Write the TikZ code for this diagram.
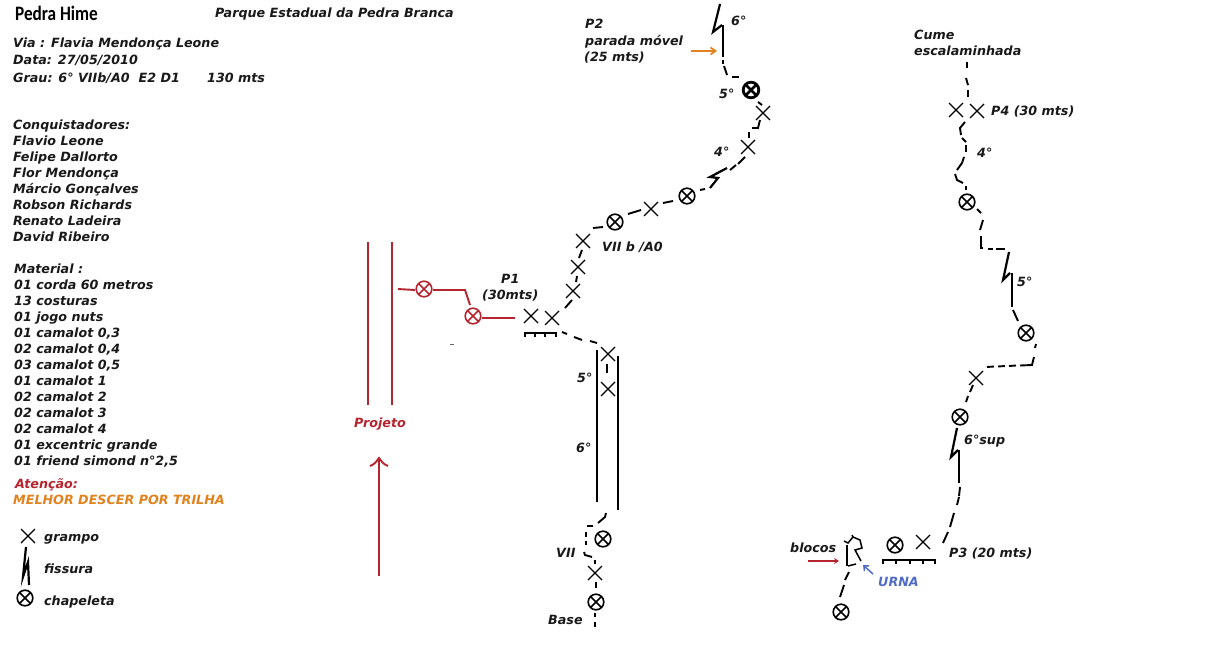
\documentclass[tikz,border=0pt]{standalone}
\usepackage{fontspec}
\setmainfont{DejaVu Sans}
\newfontfamily\titlefont[FakeStretch=0.84,BoldFont={Carlito Bold}]{Carlito}
\usetikzlibrary{arrows.meta}
\definecolor{redline}{HTML}{B5252F}
\definecolor{orangeline}{HTML}{E0821E}
\definecolor{blueline}{HTML}{4F6BC8}
\tikzset{
	lbl/.style={anchor=west, inner sep=0pt, text height=10.6pt, text depth=2pt, font=\fontsize{12.7pt}{14pt}\selectfont\bfseries\itshape, text=black!90},
	route/.style={line width=1.9pt, color=black},
	crack/.style={line width=2.2pt, color=black},
	redroute/.style={line width=1.9pt, color=redline},
}
\def\grampo(#1,#2){\draw[line width=1.3pt] (#1,#2) +(-7pt,-7pt) -- +(7pt,7pt) +(-7pt,7pt) -- +(7pt,-7pt);}
\def\chapeleta[#1](#2,#3){\draw[line width=1.6pt, #1] (#2,#3) circle (7.8pt) +(-5.5pt,-5.5pt) -- +(5.5pt,5.5pt) +(-5.5pt,5.5pt) -- +(5.5pt,-5.5pt);}

\begin{document}
\begin{tikzpicture}[x=1pt, y=-1pt]
	%%%%% START %%%%%
	\useasboundingbox (0,0) rectangle (1214,659);

	\node[anchor=west, inner sep=0pt, font=\titlefont\fontsize{20.5pt}{20.5pt}\selectfont\bfseries] (title) at (15,13) {Pedra Hime};
	\node[lbl] (parque) at (215,13.5) {Parque Estadual da Pedra Branca};
	\node[lbl] (via) at (13,43.5) {Via : Flavia Mendonça Leone};
	\node[lbl] (data) at (13,60) {Data: 27/05/2010};
	\node[lbl] (grau) at (13,78) {Grau: 6° VIIb/A0 \ E2 D1};
	\node[lbl] (total) at (207,78.5) {130 mts};

	\node[lbl] (conq) at (13,125) {Conquistadores:};
	\node[lbl] (c1) at (13,141) {Flavio Leone};
	\node[lbl] (c2) at (13,157) {Felipe Dallorto};
	\node[lbl] (c3) at (13,173) {Flor Mendonça};
	\node[lbl] (c4) at (13,189) {Márcio Gonçalves};
	\node[lbl] (c5) at (13,205) {Robson Richards};
	\node[lbl] (c6) at (13,221) {Renato Ladeira};
	\node[lbl] (c7) at (13,237) {David Ribeiro};

	\node[lbl] (mat) at (14,269) {Material :};
	\node[lbl] (m1) at (14,285) {01 corda 60 metros};
	\node[lbl] (m2) at (14,301) {13 costuras};
	\node[lbl] (m3) at (14,317) {01 jogo nuts};
	\node[lbl] (m4) at (14,333) {01 camalot 0,3};
	\node[lbl] (m5) at (14,349) {02 camalot 0,4};
	\node[lbl] (m6) at (14,365) {03 camalot 0,5};
	\node[lbl] (m7) at (14,381) {01 camalot 1};
	\node[lbl] (m8) at (14,397) {02 camalot 2};
	\node[lbl] (m9) at (14,413) {02 camalot 3};
	\node[lbl] (m10) at (14,429) {02 camalot 4};
	\node[lbl] (m11) at (14,445) {01 excentric grande};
	\node[lbl] (m12) at (14,461) {01 friend simond n°2,5};

	\node[lbl, text=redline] (atencao) at (15,484) {Atenção:};
	\node[lbl, text=orangeline] (melhor) at (13,500.5) {MELHOR DESCER POR TRILHA};

	% legenda
	\grampo(28,536);
	\draw[crack] (26,547) -- (23,577) -- (28,562) -- (29,585);
	\chapeleta[](25,598);
	\node[lbl] (lgrampo) at (44,537) {grampo};
	\node[lbl] (lfissura) at (44,569) {fissura};
	\node[lbl] (lchapeleta) at (44,601) {chapeleta};

	% projeto
	\draw[redroute] (368,242) -- (368,405);
	\draw[redroute] (392,242) -- (392,405);
	\draw[redroute] (398,289) -- (415,290);
	\chapeleta[redline](424,289);
	\draw[redroute] (433,290) -- (465,290) -- (470,305);
	\chapeleta[redline](473,316);
	\draw[redroute] (482,318) -- (515,318);
	\draw[line width=0.8pt, color=black!60] (450,344) -- (454,344);
	\draw[redroute] (379,576) -- (379,459);
	\draw[redroute] (370,466) .. controls (375,464) and (377,461) .. (379,458) .. controls (381,461) and (383,464) .. (388,466);
	\node[lbl, text=redline] (projeto) at (354,423) {Projeto};

	% via ate P2
	\draw[route] (595,627) -- (595,622) (595,617) -- (595,613);
	\chapeleta[](596,602);
	\draw[route] (596,582) -- (596,588);
	\grampo(595,573);
	\draw[route] (595,560) -- (595,564);
	\draw[route] (592,557) -- (585,555) -- (584,552);
	\draw[route] (586,545) -- (586,541) (586,537) -- (586,532);
	\draw[route] (593,526) -- (587,526);
	\draw[route] (606,513) -- (605,517) -- (598,523);
	\chapeleta[](603,539);
	\draw[crack] (597,350) -- (597,502);
	\draw[crack] (618,356) -- (618,510);
	\grampo(608,389);
	\draw[route] (607,364) -- (607,373);
	\grampo(608,354);
	\draw[route] (562,332) -- (567,334) (574,337) -- (582,340) (590,341) -- (597,343);

	\draw[route] (525,337) -- (525,333) -- (556,333) -- (556,337);
	\draw[route] (535,333) -- (535,337) (545,333) -- (545,337);
	\grampo(531,316);
	\grampo(552,318);
	\draw[route] (572,300) -- (565,308);
	\grampo(573,291);
	\draw[route] (577,276) -- (576,282);
	\grampo(578,267);
	\draw[route] (582,250) -- (579,258);
	\grampo(583,241);
	\draw[route] (603,227) -- (593,228);
	\chapeleta[](615,222);
	\draw[route] (641,210) -- (628,214);
	\grampo(651,209);
	\draw[route] (673,201) -- (663,203);
	\chapeleta[](687,196);
	\draw[route] (705,189) -- (700,190);
	\draw[crack] (727,168) -- (710,177) -- (718,178) -- (710,188);
	\draw[route] (745,157) -- (738,164) (736,165) -- (730,170);
	\grampo(748,147);
	\draw[route] (749,132) -- (749,138);
	\draw[route] (760,120) -- (758,128) -- (752,128);
	\grampo(763,113);
	\draw[route] (758,102) -- (762,105);
	\chapeleta[line width=2.8pt](751,90);
	\draw[route] (732,77) -- (739,77);
	\draw[route] (724,66) -- (727,75);
	\draw[crack] (720,4) -- (713,32) -- (722,25);
	\draw[crack] (723,25) -- (723,57);
	\draw[route] (723,60) -- (723,64);
	\draw[-{Straight Barb[length=5pt,width=7pt]}, line width=1.7pt, color=orangeline] (691,51) -- (717,51);

	\node[lbl] (p2a) at (585,24) {P2};
	\node[lbl] (p2b) at (585,41) {parada móvel};
	\node[lbl] (p2c) at (584,57) {(25 mts)};
	\node[lbl] (g6a) at (731,21) {6°};
	\node[lbl] (g5a) at (719,94) {5°};
	\node[lbl] (g4a) at (714,152) {4°};
	\node[lbl] (g7b) at (602,247) {VII b /A0};
	\node[lbl] (p1a) at (501,279) {P1};
	\node[lbl] (p1b) at (482,295) {(30mts)};
	\node[lbl] (g5b) at (577,378) {5°};
	\node[lbl] (g6b) at (576,448) {6°};
	\node[lbl] (g7) at (556,553) {VII};
	\node[lbl] (base) at (548,620) {Base};

	% blocos e P3
	\chapeleta[](841,612);
	\draw[route] (844,585) -- (840,597);
	\draw[route] (849,572) -- (845,580);
	\draw[crack] (847,545) -- (847,566);
	\draw[line width=1.5pt] (848,566) -- (856,564);
	\draw[line width=1.5pt] (844,541) -- (848,543) -- (853,537) -- (860,540) -- (862,548) -- (855,550) -- (861,561);
	\draw[line width=1.5pt] (852,535) -- (853,537);
	\draw[-{Stealth[length=5pt,width=6pt]}, line width=1.7pt, color=redline] (808,561) -- (839,561);
	\draw[-{Straight Barb[length=4pt,width=7pt]}, line width=1.5pt, color=blueline] (873,574) -- (863,565);
	\node[lbl] (blocos) at (790,548) {blocos};
	\node[lbl, text=blueline] (urna) at (878,582) {URNA};

	\draw[route] (883,564) -- (883,560) -- (935,560) -- (935,564);
	\draw[route] (896,560) -- (896,564) (910,560) -- (910,564) (923,560) -- (923,564);
	\chapeleta[](895,545);
	\grampo(923,542);
	\node[lbl] (p3) at (949,553) {P3 (20 mts)};

	% via ate o cume
	\draw[route] (948,532) -- (943,543);
	\draw[route] (954,513) -- (950,527);
	\draw[route] (959,497) -- (957,505);
	\draw[route] (960,487) -- (959,496);
	\draw[crack] (957,428) -- (951,457) -- (958,450);
	\draw[crack] (959,450) -- (959,483);
	\chapeleta[](960,417);
	\draw[route] (973,385) -- (970,392) (968,396) -- (966,402);
	\grampo(976,378);
	\draw[route] (987,367) -- (994,366.5) (998,366.5) -- (1005,366) (1009,366) -- (1016,365.5) (1020,365.5) -- (1032,365) -- (1034,357);
	\draw[route] (1036,344) -- (1035,348);
	\chapeleta[](1026,333);
	\draw[route] (1013,310) -- (1018,321);
	\draw[crack] (1009,252) -- (1003,280) -- (1010,273);
	\draw[crack] (1012,273) -- (1012,307);
	\draw[route] (988,249) -- (993,249) (996,249) -- (1005,249);
	\draw[route] (981,236) -- (981,248) -- (983,248);
	\draw[route] (983,220) -- (980,230);
	\draw[route] (977,209) -- (981,213);
	\chapeleta[](967,202);
	\draw[route] (966,186) -- (966,190);
	\draw[route] (955,174) -- (957,180) -- (963,183);
	\draw[route] (964,157) -- (962,163) -- (957,170);
	\draw[route] (966,145) -- (966,152);
	\draw[route] (962,138) -- (966,142);
	\draw[route] (965,122) -- (960,128) -- (961,135);
	\grampo(956,110);
	\grampo(977,111);
	\draw[route] (968,90) -- (968,97);
	\draw[route] (966,78) -- (968,85);
	\draw[route] (967,62) -- (967,68);

	\node[lbl] (cume) at (914,35) {Cume};
	\node[lbl] (esc) at (914,51) {escalaminhada};
	\node[lbl] (p4) at (991,111) {P4 (30 mts)};
	\node[lbl] (g4b) at (977,153) {4°};
	\node[lbl] (g5c) at (1017,282) {5°};
	\node[lbl] (g6sup) at (964,440) {6°sup};
	%%%%% END %%%%%
\end{tikzpicture}
\end{document}
